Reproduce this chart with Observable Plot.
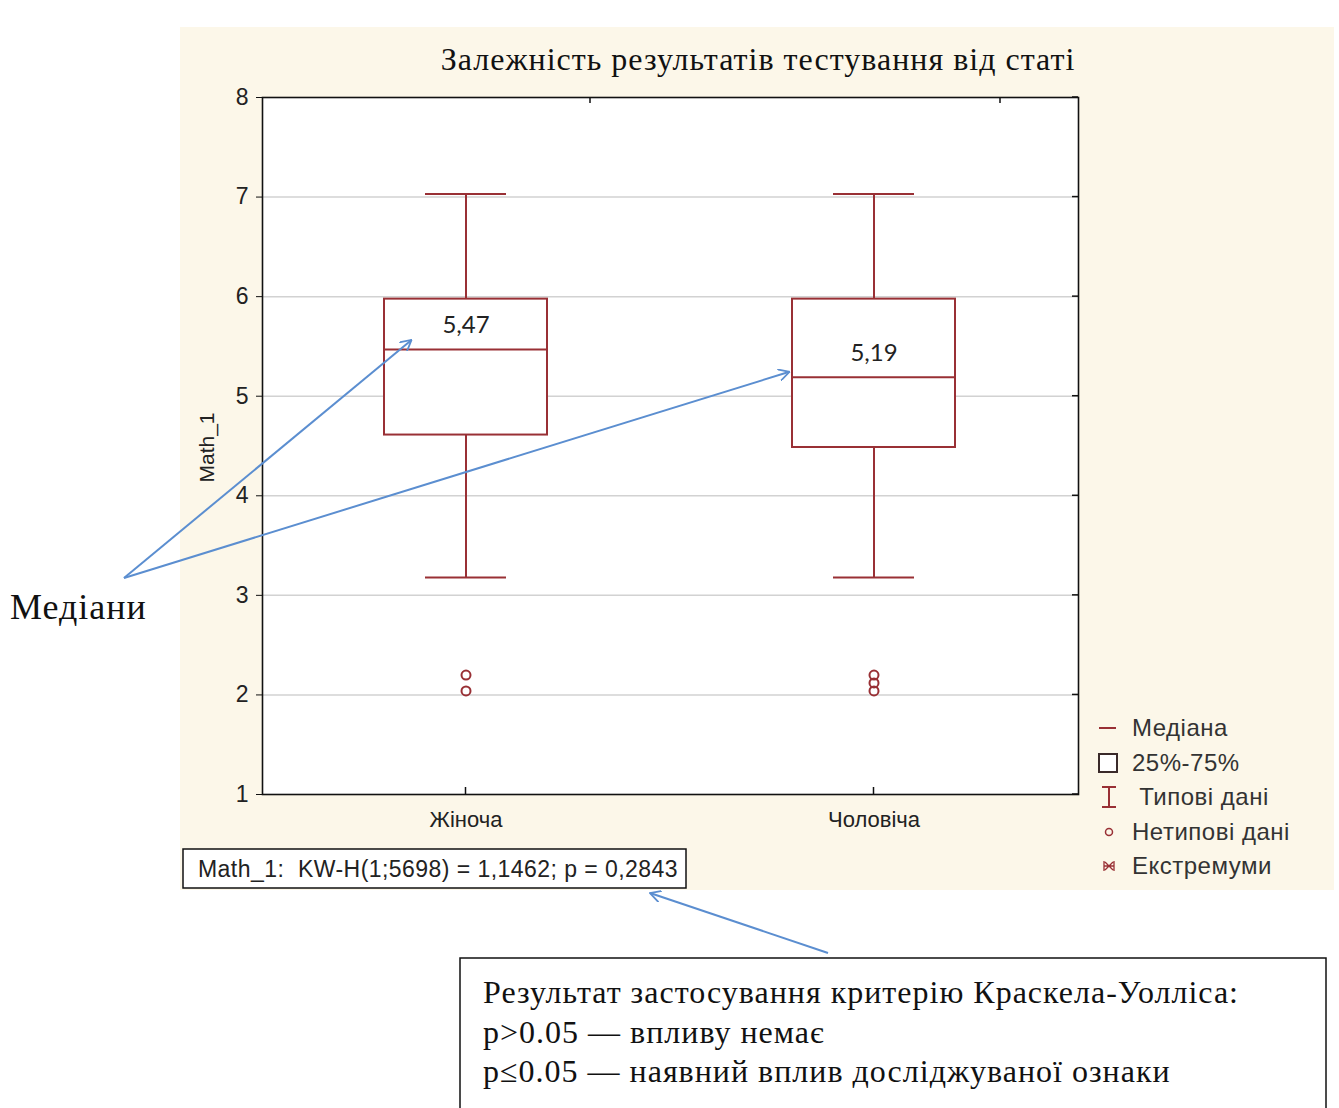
<!DOCTYPE html>
<html><head><meta charset="utf-8">
<script src="https://cdn.jsdelivr.net/npm/d3@7"></script>
<script src="https://cdn.jsdelivr.net/npm/@observablehq/plot@0.6"></script>
<style>body{margin:0;background:#fff;} svg{display:block;}</style>
</head><body>
<script>
const categories = ["Жіноча", "Чоловіча"];
const whiskerLow = [3.18, 3.18];
const q1 = [4.61, 4.485];
const medians = [5.47, 5.19];
const q3 = [5.975, 5.975];
const whiskerHigh = [7.03, 7.03];
const outlierCats = ["Жіноча", "Жіноча", "Чоловіча", "Чоловіча", "Чоловіча"];
const outlierVals = [2.2, 2.04, 2.2, 2.12, 2.04];
const yTicks = [1, 2, 3, 4, 5, 6, 7, 8];
const chartTitle = "Залежність результатів тестування від статі";
const yLabel = "Math_1";
const statText = "Math_1:  KW-H(1;5698) = 1,1462; p = 0,2843";
const legendLabels = ["Медіана", "25%-75%", " Типові дані", "Нетипові дані", "Екстремуми"];
const noteLines = ["Результат застосування критерію Краскела-Уолліса:", "p>0.05 — впливу немає", "p≤0.05 — наявний вплив досліджуваної ознаки"];

(function () {
const boxes = categories.map((c, i) => ({cat: c, lo: whiskerLow[i], q1: q1[i], med: medians[i], q3: q3[i], hi: whiskerHigh[i]}));
const outliers = outlierCats.map((c, i) => ({cat: c, v: outlierVals[i]}));
const RED = "#993035";
const SANS = "Liberation Sans, Arial, sans-serif";
const SERIF = "Liberation Serif, Times New Roman, serif";

const plot = Plot.plot({
  width: 1339, height: 1108,
  marginLeft: 262, marginRight: 261, marginTop: 97, marginBottom: 314,
  style: {background: "transparent", fontFamily: SANS, fontSize: "22px", color: "#222"},
  x: {type: "band", domain: categories, paddingInner: 0.6, paddingOuter: 0.3, label: null},
  y: {domain: [1, 8], label: null},
  marks: [
    Plot.frame({fill: "white", stroke: "none"}),
    Plot.gridY([2, 3, 4, 5, 6, 7], {stroke: "#d2d2d2", strokeOpacity: 1, strokeWidth: 1.5}),
    Plot.frame({stroke: "#111", strokeWidth: 1.6}),
    Plot.axisY({ticks: yTicks, tickFormat: "d", tickSize: 6, tickPadding: 8, label: null, fontSize: 23, stroke: "#111"}),
    Plot.axisX({tickSize: 0, tickPadding: 17, label: null, fontSize: 22}),
    Plot.ruleX(boxes, {x: "cat", y1: "lo", y2: "q1", stroke: RED, strokeWidth: 2}),
    Plot.ruleX(boxes, {x: "cat", y1: "q3", y2: "hi", stroke: RED, strokeWidth: 2}),
    Plot.barY(boxes, {x: "cat", y1: "q1", y2: "q3", fill: "white", stroke: RED, strokeWidth: 2}),
    Plot.tickY(boxes, {x: "cat", y: "med", stroke: RED, strokeWidth: 2}),
    Plot.tickY(boxes, {x: "cat", y: "lo", stroke: RED, strokeWidth: 2, insetLeft: 41, insetRight: 41}),
    Plot.tickY(boxes, {x: "cat", y: "hi", stroke: RED, strokeWidth: 2, insetLeft: 41, insetRight: 41}),
    Plot.dot(outliers, {x: "cat", y: "v", r: 4.5, stroke: RED, strokeWidth: 2, fill: "none"}),
    Plot.text(boxes, {x: "cat", y: "med", text: d => d.med.toFixed(2).replace(".", ","), dy: -24, fontFamily: "Lato, 'Open Sans', sans-serif", fontSize: 24, fill: "#222"})
  ]
});
document.body.appendChild(plot);

const svg = d3.select(plot);
const xs = plot.scale("x"), ys = plot.scale("y");
const xc = c => xs.apply(c) + xs.bandwidth / 2;
const pRight = 1078, pTop = ys.apply(8), pBottom = ys.apply(1);

svg.insert("rect", ":first-child").attr("x", 180).attr("y", 27).attr("width", 1154).attr("height", 863).attr("fill", "#fcf7e9");

const g = svg.append("g").attr("text-anchor", "start");
yTicks.forEach(t => {
  g.append("line").attr("x1", pRight).attr("x2", pRight - 6).attr("y1", ys.apply(t)).attr("y2", ys.apply(t)).attr("stroke", "#111").attr("stroke-width", 1.5);
});
categories.forEach(c => {
  g.append("line").attr("x1", xc(c)).attr("x2", xc(c)).attr("y1", pBottom).attr("y2", pBottom - 7).attr("stroke", "#111").attr("stroke-width", 1.5);
});
[590, 1000].forEach(x => {
  g.append("line").attr("x1", x).attr("x2", x).attr("y1", pTop).attr("y2", pTop + 6).attr("stroke", "#111").attr("stroke-width", 1.5);
});

g.append("text").attr("x", 758).attr("y", 70).attr("text-anchor", "middle")
  .attr("font-family", SERIF).attr("font-size", 32).attr("letter-spacing", 1).attr("fill", "#111").text(chartTitle);
g.append("text").attr("transform", `translate(214,${(pTop + pBottom) / 2 + 2}) rotate(-90)`).attr("text-anchor", "middle")
  .attr("font-family", SANS).attr("font-size", 21).attr("fill", "#222").text(yLabel);

g.append("rect").attr("x", 183).attr("y", 849).attr("width", 503).attr("height", 39).attr("fill", "white").attr("stroke", "#111").attr("stroke-width", 1.5);
g.append("text").attr("x", 198).attr("y", 877).attr("font-family", SANS).attr("font-size", 23).attr("letter-spacing", 0.45).attr("fill", "#222").text(statText);

const lx = 1099, ly = [728, 763, 797, 832, 866];
g.append("line").attr("x1", lx).attr("x2", lx + 17).attr("y1", ly[0]).attr("y2", ly[0]).attr("stroke", RED).attr("stroke-width", 2);
g.append("rect").attr("x", lx).attr("y", ly[1] - 9).attr("width", 18).attr("height", 18).attr("fill", "white").attr("stroke", "#3a2a2a").attr("stroke-width", 2);
g.append("path").attr("d", `M${lx+3},${ly[2]-10}H${lx+17}M${lx+10},${ly[2]-10}V${ly[2]+10}M${lx+3},${ly[2]+10}H${lx+17}`).attr("stroke", RED).attr("stroke-width", 2).attr("fill", "none");
g.append("circle").attr("cx", lx + 10).attr("cy", ly[3]).attr("r", 3.5).attr("fill", "none").attr("stroke", RED).attr("stroke-width", 1.5);
g.append("path").attr("d", `M${lx+5},${ly[4]-5}V${ly[4]+5}M${lx+15},${ly[4]-5}V${ly[4]+5}M${lx+5},${ly[4]}H${lx+15}M${lx+6},${ly[4]-4}L${lx+14},${ly[4]+4}M${lx+14},${ly[4]-4}L${lx+6},${ly[4]+4}`).attr("stroke", RED).attr("stroke-width", 1.3).attr("fill", "none");
legendLabels.forEach((t, i) => {
  g.append("text").attr("x", 1132).attr("y", ly[i] + 8).attr("font-family", SANS).attr("font-size", 24).attr("letter-spacing", 0.5)
    .attr("fill", "#333").style("white-space", "pre").text(t);
});

const BLUE = "#5b8ed0";
const defs = svg.append("defs");
defs.append("marker").attr("id", "arr").attr("viewBox", "0 0 12 12").attr("refX", 11).attr("refY", 6)
  .attr("markerWidth", 12).attr("markerHeight", 12).attr("markerUnits", "userSpaceOnUse").attr("orient", "auto")
  .append("path").attr("d", "M0,0L11,6L0,12").attr("fill", "none").attr("stroke", BLUE).attr("stroke-width", 1.8);
const a = svg.append("g").attr("stroke", BLUE).attr("stroke-width", 2).attr("fill", "none");
a.append("line").attr("x1", 124).attr("y1", 578).attr("x2", xc(categories[0]) - 54).attr("y2", ys.apply(medians[0]) - 9).attr("marker-end", "url(#arr)");
a.append("line").attr("x1", 124).attr("y1", 578).attr("x2", xc(categories[1]) - 84).attr("y2", ys.apply(medians[1]) - 5).attr("marker-end", "url(#arr)");
a.append("line").attr("x1", 828).attr("y1", 953).attr("x2", 650).attr("y2", 893).attr("marker-end", "url(#arr)");

const t2 = svg.append("g").attr("text-anchor", "start");
t2.append("text").attr("x", 10).attr("y", 619).attr("font-family", SERIF).attr("font-size", 36).attr("letter-spacing", 1).attr("fill", "#111").text("Медіани");

t2.append("rect").attr("x", 460).attr("y", 958).attr("width", 866).attr("height", 160).attr("fill", "white").attr("stroke", "#111").attr("stroke-width", 1.5);
noteLines.forEach((t, i) => {
  t2.append("text").attr("x", 483).attr("y", 1003 + i * 39.5).attr("font-family", SERIF).attr("font-size", 32).attr("letter-spacing", 1).attr("fill", "#111").text(t);
});
})();
</script>
</body></html>
